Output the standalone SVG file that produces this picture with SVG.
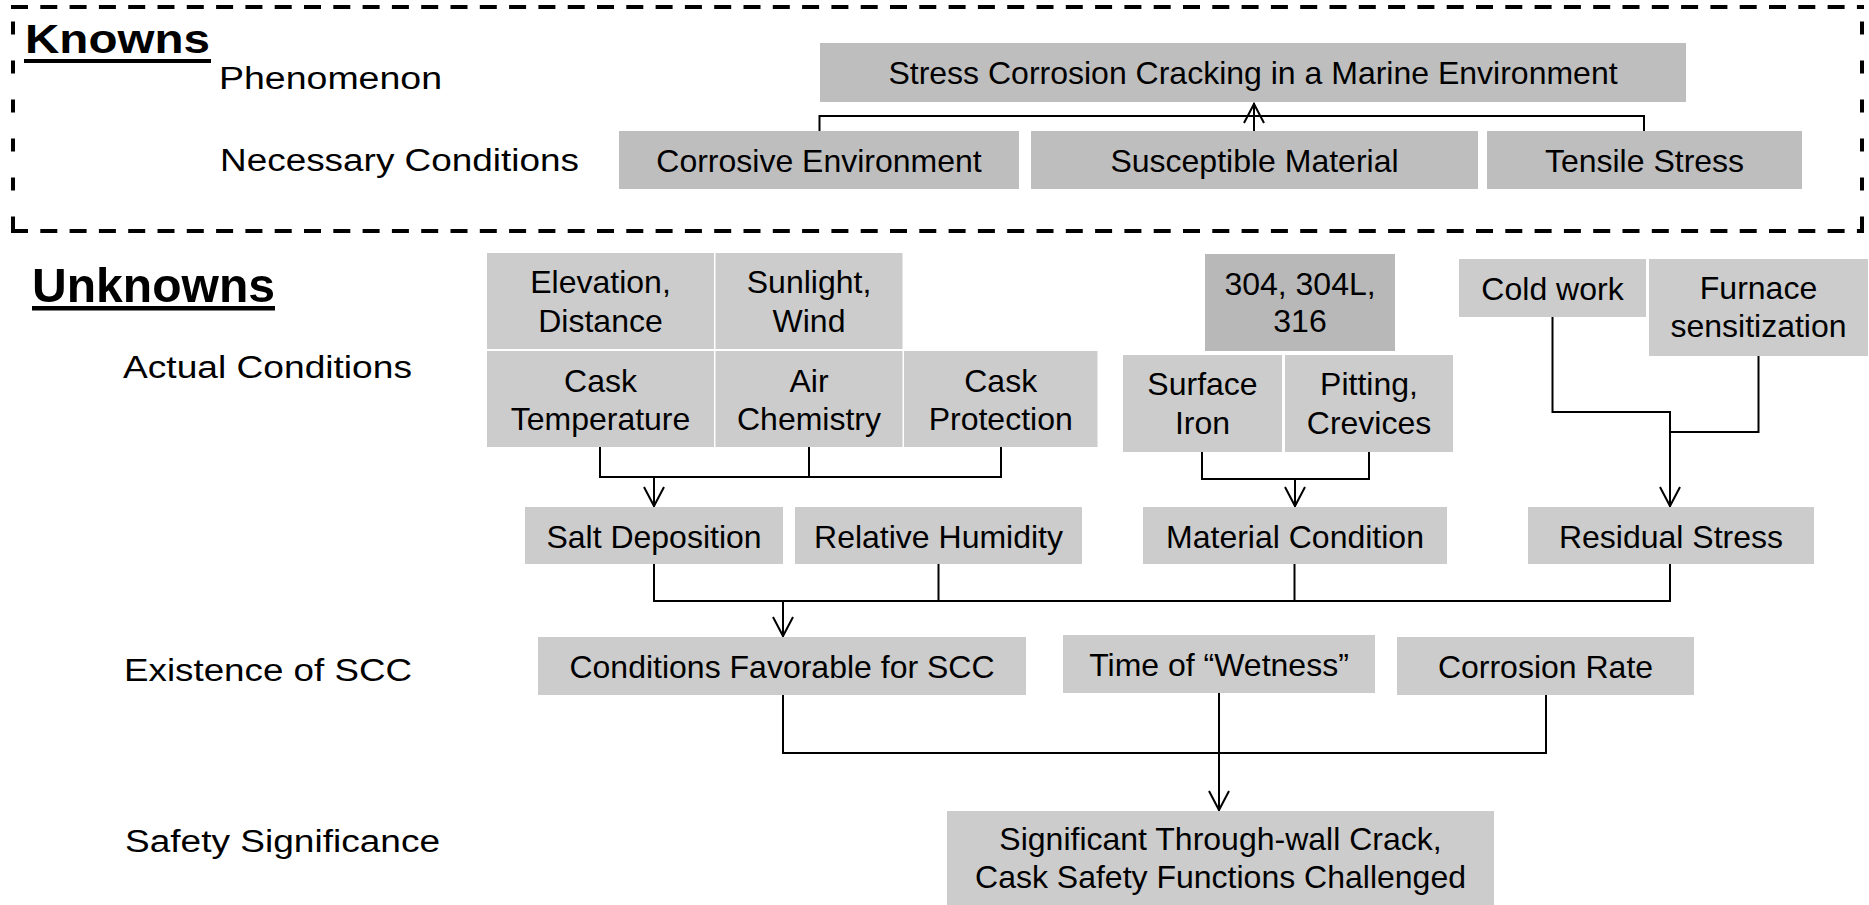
<svg xmlns="http://www.w3.org/2000/svg" width="1869" height="905" viewBox="0 0 1869 905">
<style>
text{font-family:"Liberation Sans",Arial,sans-serif;fill:#000}
.lbl{font-size:31px}
.hdr{font-size:40px;font-weight:bold}
.nt{font-size:32px;text-anchor:middle}
.kn{fill:#BEBEBE}
.un{fill:#CCCCCC}
.dk{fill:#B8B8B8}
.ln{fill:none;stroke:#000;stroke-width:2}
.dh{fill:none;stroke:#000;stroke-width:4;stroke-dasharray:17 12.3}
.dv{fill:none;stroke:#000;stroke-width:4;stroke-dasharray:13 26;stroke-dashoffset:24.5}
</style>
<defs>
<marker id="arr" viewBox="-2 -12 24 24" refX="20" refY="0" markerWidth="24" markerHeight="24" markerUnits="userSpaceOnUse" orient="auto" overflow="visible">
<path d="M0,-10 L19,0 L0,10" fill="none" stroke="#000" stroke-width="2"/>
</marker>
</defs>
<rect width="1869" height="905" fill="#fff"/>

<g id="knowns-frame">
<path class="dh" d="M11,7 H1864"/>
<path class="dh" d="M11,231 H1864"/>
<path class="dv" d="M13,7 V231"/>
<path class="dv" d="M1862,7 V231"/>
</g>

<g id="labels">
<text class="hdr" x="25" y="53" textLength="185" lengthAdjust="spacingAndGlyphs">Knowns</text>
<rect x="24" y="59" width="187" height="4"/>
<text class="lbl" x="219" y="89" textLength="223" lengthAdjust="spacingAndGlyphs">Phenomenon</text>
<text class="lbl" x="220" y="171" textLength="359" lengthAdjust="spacingAndGlyphs">Necessary Conditions</text>
<text x="32" y="302" style="font-size:48px;font-weight:bold" textLength="243" lengthAdjust="spacingAndGlyphs">Unknowns</text>
<rect x="32" y="306" width="243" height="4.5"/>
<text class="lbl" x="123" y="378" textLength="289" lengthAdjust="spacingAndGlyphs">Actual Conditions</text>
<text class="lbl" x="124" y="681" textLength="288" lengthAdjust="spacingAndGlyphs">Existence of SCC</text>
<text class="lbl" x="125" y="852" textLength="315" lengthAdjust="spacingAndGlyphs">Safety Significance</text>
</g>

<g id="connectors">
<path class="ln" d="M819.5,131 V116 H1644 V131"/>
<path class="ln" d="M1254,131 V103" marker-end="url(#arr)"/>
<path class="ln" d="M600,447 V477 H1001 V447"/>
<path class="ln" d="M809,447 V477"/>
<path class="ln" d="M654,477 V507" marker-end="url(#arr)"/>
<path class="ln" d="M1202,452 V479 H1369 V452"/>
<path class="ln" d="M1295,479 V507" marker-end="url(#arr)"/>
<path class="ln" d="M1552.5,317 V412 H1670 V507" marker-end="url(#arr)"/>
<path class="ln" d="M1758.5,356 V432 H1670"/>
<path class="ln" d="M654,564 V601 H1670 V564"/>
<path class="ln" d="M938.5,564 V601"/>
<path class="ln" d="M1294.5,564 V601"/>
<path class="ln" d="M783,601 V637" marker-end="url(#arr)"/>
<path class="ln" d="M783,695 V753 H1546 V695"/>
<path class="ln" d="M1219,693 V811" marker-end="url(#arr)"/>
</g>

<g id="n_scc_marine"><rect class="kn" x="820" y="43" width="866" height="59"/><text class="nt" x="1253" y="83.5">Stress Corrosion Cracking in a Marine Environment</text></g>
<g id="n_corrosive"><rect class="kn" x="619" y="131" width="400" height="58"/><text class="nt" x="819" y="171.5">Corrosive Environment</text></g>
<g id="n_susceptible"><rect class="kn" x="1031" y="131" width="447" height="58"/><text class="nt" x="1254.5" y="171.5">Susceptible Material</text></g>
<g id="n_tensile"><rect class="kn" x="1487" y="131" width="315" height="58"/><text class="nt" x="1644.5" y="171.5">Tensile Stress</text></g>

<g id="n_elevation"><rect class="un" x="487" y="253" width="227" height="96"/><text class="nt"><tspan x="600.5" y="293">Elevation,</tspan><tspan x="600.5" y="331.5">Distance</tspan></text></g>
<g id="n_sunlight"><rect class="un" x="715.5" y="253" width="187" height="96"/><text class="nt"><tspan x="809" y="293">Sunlight,</tspan><tspan x="809" y="331.5">Wind</tspan></text></g>
<g id="n_cask_temp"><rect class="un" x="487" y="351" width="227" height="96"/><text class="nt"><tspan x="600.5" y="391.5">Cask</tspan><tspan x="600.5" y="430">Temperature</tspan></text></g>
<g id="n_air_chem"><rect class="un" x="715.5" y="351" width="187" height="96"/><text class="nt"><tspan x="809" y="391.5">Air</tspan><tspan x="809" y="430">Chemistry</tspan></text></g>
<g id="n_cask_prot"><rect class="un" x="904" y="351" width="193.5" height="96"/><text class="nt"><tspan x="1000.7" y="391.5">Cask</tspan><tspan x="1000.7" y="430">Protection</tspan></text></g>
<g id="n_salt"><rect class="un" x="525" y="507" width="258" height="57"/><text class="nt" x="654" y="547.5">Salt Deposition</text></g>
<g id="n_rh"><rect class="un" x="795" y="507" width="287" height="57"/><text class="nt" x="938.5" y="547.5">Relative Humidity</text></g>

<g id="n_alloy"><rect class="dk" x="1205" y="254" width="190" height="97"/><text class="nt"><tspan x="1300" y="295">304, 304L,</tspan><tspan x="1300" y="332">316</tspan></text></g>
<g id="n_surface_iron"><rect class="un" x="1123" y="355" width="159" height="97"/><text class="nt"><tspan x="1202.5" y="395">Surface</tspan><tspan x="1202.5" y="433.5">Iron</tspan></text></g>
<g id="n_pitting"><rect class="un" x="1285" y="355" width="168" height="97"/><text class="nt"><tspan x="1369" y="395">Pitting,</tspan><tspan x="1369" y="433.5">Crevices</tspan></text></g>
<g id="n_material"><rect class="un" x="1143" y="507" width="304" height="57"/><text class="nt" x="1295" y="547.5">Material Condition</text></g>

<g id="n_cold_work"><rect class="un" x="1459" y="259" width="187" height="58"/><text class="nt" x="1552.5" y="300">Cold work</text></g>
<g id="n_furnace"><rect class="un" x="1649" y="259" width="219" height="97"/><text class="nt"><tspan x="1758.5" y="298.5">Furnace</tspan><tspan x="1758.5" y="337">sensitization</tspan></text></g>
<g id="n_residual"><rect class="un" x="1528" y="507" width="286" height="57"/><text class="nt" x="1671" y="547.5">Residual Stress</text></g>

<g id="n_favorable"><rect class="un" x="538" y="637" width="488" height="58"/><text class="nt" x="782" y="678">Conditions Favorable for SCC</text></g>
<g id="n_wetness"><rect class="un" x="1063" y="635" width="312" height="58"/><text class="nt" x="1219" y="675.5">Time of “Wetness”</text></g>
<g id="n_rate"><rect class="un" x="1397" y="637" width="297" height="58"/><text class="nt" x="1545.5" y="678">Corrosion Rate</text></g>

<g id="n_crack"><rect class="un" x="947" y="811" width="547" height="94"/><text class="nt"><tspan x="1220.5" y="850">Significant Through-wall Crack,</tspan><tspan x="1220.5" y="888">Cask Safety Functions Challenged</tspan></text></g>
</svg>
